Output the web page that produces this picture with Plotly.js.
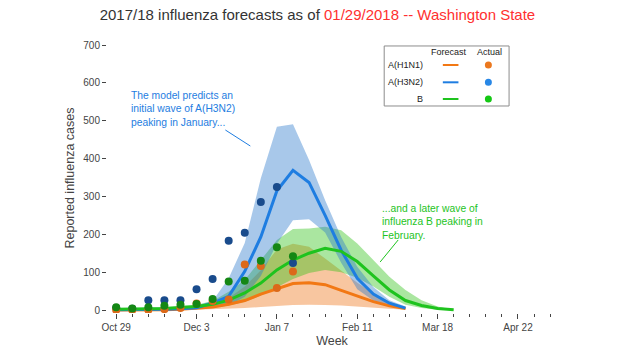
<!DOCTYPE html>
<html>
<head>
<meta charset="utf-8">
<script src="https://cdn.plot.ly/plotly-3.0.1.min.js"></script>
<style>html,body{margin:0;padding:0;background:#fff;}#chart{width:620px;height:350px;}</style>
</head>
<body>
<div id="chart"></div>
<script>
// Weekly dates (week starting)
const weeks = ['2017-10-29','2017-11-05','2017-11-12','2017-11-19','2017-11-26','2017-12-03',
  '2017-12-10','2017-12-17','2017-12-24','2017-12-31','2018-01-07','2018-01-14','2018-01-21',
  '2018-01-28','2018-02-04','2018-02-11','2018-02-18','2018-02-25','2018-03-04','2018-03-11',
  '2018-03-18','2018-03-25'];

// Forecasts (median and band)
const h1n1Fc = [0,0,1,1,2,4,8,15,25,42,57,70,72,67,52,36,22,11,4];
const h1n1Lo = [0,0,0,0,0,1,2,3,5,8,11,13,14,13,12,10,6,3,1];
const h1n1Hi = [1,1,2,3,5,9,17,32,62,105,160,175,167,136,105,72,44,22,6];

const h3n2Fc = [1,1,2,2,3,6,18,36,102,193,315,369,337,250,158,84,42,18,5];
const h3n2Lo = [0,0,0,0,1,2,5,12,35,90,175,237,240,205,125,55,25,10,2];
const h3n2Hi = [1,2,3,4,6,12,24,84,177,348,484,491,396,290,193,114,61,26,9];

const bFc = [2,2,3,4,6,9,15,26,45,71,106,132,150,163,155,128,90,53,25,12,4,1];
const bLo = [1,1,1,2,3,5,8,12,22,38,60,82,98,106,100,85,62,35,14,5,1,0];
const bHi = [3,3,5,7,10,14,24,48,79,132,185,214,215,220,211,176,132,88,53,26,9,2];

// Actual observed
const h1n1Act = [0,0,0,2,5,17,24,28,120,116,58,102];
const h3n2Act = [5,3,26,26,26,55,82,183,204,285,325,124];
const bAct    = [7,4,7,11,14,16,29,75,77,130,166,142];

const legendRows = ['A(H1N1)','A(H3N2)','B'];

// Colours
const cLine = {h1:'rgb(242,120,20)', h3:'rgb(30,125,225)', b:'rgb(30,195,30)'};
const cBand = {h1:'rgba(237,112,17,0.4)', h3:'rgba(38,118,203,0.4)', b:'rgba(42,192,17,0.4)'};
const cDot  = {h1:'rgb(220,105,25)', h3:'rgb(25,75,140)', b:'rgb(20,135,20)'};
const cLegDot = {h1:'rgb(235,120,30)', h3:'rgb(40,135,230)', b:'rgb(20,200,20)'};

function band(n, lo, hi, color){
  const wk = weeks.slice(0, n);
  return {x: wk.concat(wk.slice().reverse()), y: hi.concat(lo.slice().reverse()),
    type:'scatter', mode:'lines', fill:'toself', fillcolor: color,
    line:{width:0}, hoverinfo:'skip', showlegend:false};
}
function line(vals, color){
  return {x: weeks.slice(0, vals.length), y: vals, type:'scatter', mode:'lines',
    line:{color: color, width:3}, showlegend:false};
}
function dots(vals, color){
  return {x: weeks.slice(0, vals.length), y: vals, type:'scatter', mode:'markers',
    marker:{color: color, size:8}, showlegend:false};
}

const data = [
  band(h1n1Fc.length, h1n1Lo, h1n1Hi, cBand.h1),
  band(bFc.length, bLo, bHi, cBand.b),
  band(h3n2Fc.length, h3n2Lo, h3n2Hi, cBand.h3),
  line(h1n1Fc, cLine.h1),
  line(h3n2Fc, cLine.h3),
  line(bFc, cLine.b),
  dots(h3n2Act, cDot.h3),
  dots(h1n1Act, cDot.h1),
  dots(bAct, cDot.b)
];

const font = 'Arial, "Liberation Sans", sans-serif';

// Custom legend (table of Forecast / Actual)
const legX0 = 0.616, legX1 = 0.8935, legY0 = 0.7667, legY1 = 0.989;
const rowY = [0.9185, 0.8544, 0.7926];
const keys = ['h1','h3','b'];
const shapes = [
  {type:'rect', xref:'paper', yref:'paper', x0:legX0, x1:legX1, y0:legY0, y1:legY1,
   line:{color:'#8c8c8c', width:1}, fillcolor:'rgba(255,255,255,1)', layer:'above'},
  // annotation pointer lines
  {type:'line', xref:'paper', yref:'paper', x0:0.263, y0:0.6778, x1:0.3185, y1:0.6185,
   line:{color:cLine.h3, width:1}},
  {type:'line', xref:'paper', yref:'paper', x0:0.647, y0:0.2704, x1:0.607, y1:0.1889,
   line:{color:cLine.b, width:1}}
];
const annotations = [
  {xref:'paper', yref:'paper', x:0.760, y:0.968, text:'Forecast', showarrow:false,
   font:{family:font, size:9, color:'#222'}, xanchor:'center', yanchor:'middle'},
  {xref:'paper', yref:'paper', x:0.849, y:0.968, text:'Actual', showarrow:false,
   font:{family:font, size:9, color:'#222'}, xanchor:'center', yanchor:'middle'},
  {xref:'paper', yref:'paper', x:0.048, y:0.7544,
   text:'The model predicts an<br>initial wave of A(H3N2)<br>peaking in January...',
   showarrow:false, align:'left', xanchor:'left', yanchor:'middle',
   font:{family:font, size:10.3, color:cLine.h3}},
  {xref:'paper', yref:'paper', x:0.6065, y:0.3381,
   text:'...and a later wave of<br>influenza B peaking in<br>February.',
   showarrow:false, align:'left', xanchor:'left', yanchor:'middle',
   font:{family:font, size:10.3, color:cLine.b}}
];
legendRows.forEach((name, i) => {
  const k = keys[i];
  annotations.push({xref:'paper', yref:'paper', x:0.707, y:rowY[i], text:name, showarrow:false,
    xanchor:'right', yanchor:'middle', font:{family:font, size:9, color:'#222'}});
  shapes.push({type:'line', xref:'paper', yref:'paper', x0:0.7463, x1:0.7810, y0:rowY[i], y1:rowY[i],
    line:{color:cLine[k], width:2}, layer:'above'});
  shapes.push({type:'circle', xref:'paper', yref:'paper', xsizemode:'pixel', ysizemode:'pixel',
    xanchor:0.8475, yanchor:rowY[i], x0:-3.5, x1:3.5, y0:-3.5, y1:3.5,
    fillcolor:cLegDot[k], line:{width:0}, layer:'above'});
});

const layout = {
  width:620, height:350,
  margin:{l:106.5, r:63, t:43, b:37},
  paper_bgcolor:'#fff', plot_bgcolor:'#fff',
  font:{family:font, color:'#444'},
  showlegend:false,
  title:{text:'2017/18 influenza forecasts as of <span style="color:#ff3030">01/29/2018 -- Washington State</span>',
    font:{family:font, size:15, color:'#333'}, x:0.512, xref:'container', xanchor:'center',
    y:0.957, yref:'container', yanchor:'middle'},
  xaxis:{type:'date', range:['2017-10-25','2018-05-09'], tick0:'2017-10-29', dtick:35*86400000,
    tickformat:'%b %-d', ticks:'outside', ticklen:5, tickcolor:'#444', tickwidth:1,
    tickfont:{family:font, size:10, color:'#444'},
    minor:{tick0:'2017-10-29', dtick:7*86400000, ticks:'outside', ticklen:3, tickcolor:'#444', showgrid:false},
    showgrid:false, zeroline:false, showline:false,
    title:{text:'Week', font:{family:font, size:12.5, color:'#444'}, standoff:4}},
  yaxis:{range:[-7.9, 705.3], dtick:100, ticks:'outside', ticklen:4, tickcolor:'#444',
    tickfont:{family:font, size:10, color:'#444'},
    showgrid:false, zeroline:false, showline:false,
    title:{text:'Reported influenza cases', font:{family:font, size:12.5, color:'#444'}, standoff:5}},
  shapes: shapes,
  annotations: annotations
};

Plotly.newPlot('chart', data, layout, {displayModeBar:false, staticPlot:true});
</script>
</body>
</html>
